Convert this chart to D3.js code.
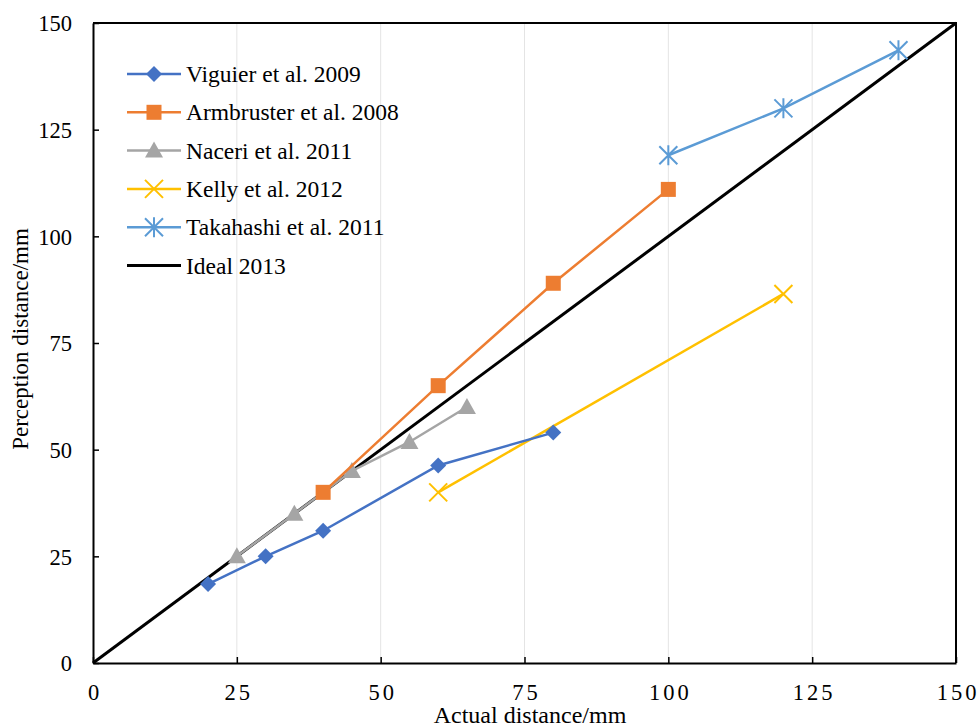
<!DOCTYPE html>
<html>
<head>
<meta charset="utf-8">
<script src="https://cdn.jsdelivr.net/npm/d3@7"></script>
<style>
  body { margin: 0; background: #fff; }
</style>
</head>
<body>
<svg width="978" height="726"></svg>
<script>
// series data (actual distance, perceived distance), mm
const viguier = [[20, 18.5], [30, 25], [40, 31], [60, 46.3], [80, 54]];
const armbruster = [[40, 40], [60, 65], [80, 89], [100, 111]];
const naceri = [[25, 25], [35, 35], [45, 45], [55, 51.8], [65, 60]];
const kelly = [[60, 40], [120, 86.5]];
const takahashi = [[100, 119], [120, 130], [140, 143.6]];
const ideal = [[0, 0], [150, 150]];

const seriesNames = ['Viguier et al. 2009', 'Armbruster et al. 2008', 'Naceri et al. 2011',
  'Kelly et al. 2012', 'Takahashi et al. 2011', 'Ideal 2013'];
const ticks = [0, 25, 50, 75, 100, 125, 150];

const serif = '"Liberation Serif", "DejaVu Serif", serif';

const svg = d3.select('svg')
    .attr('font-family', serif);
const margin = {left: 93, right: 22, top: 23, bottom: 63};
const width = 978 - margin.left - margin.right,
    height = 726 - margin.top - margin.bottom;

const x = d3.scaleLinear().domain([0, 150]).range([margin.left, margin.left + width]);
const y = d3.scaleLinear().domain([0, 150]).range([margin.top + height, margin.top]);

// markers drawn around (0,0)
function marker(g, kind, color) {
  if (kind === 'diamond') {
    const s = 8;
    g.append('path').attr('d', `M0,${-s}L${s},0L0,${s}L${-s},0Z`).attr('fill', color);
  } else if (kind === 'square') {
    g.append('rect').attr('x', -7.5).attr('y', -7.5).attr('width', 15).attr('height', 15).attr('fill', color);
  } else if (kind === 'triangle') {
    g.append('path').attr('d', 'M0,-9L9,7L-9,7Z').attr('fill', color);
  } else if (kind === 'x') {
    const s = 9;
    g.append('path').attr('d', `M${-s},${-s}L${s},${s}M${-s},${s}L${s},${-s}`)
      .attr('stroke', color).attr('stroke-width', 2).attr('fill', 'none');
  } else if (kind === 'star') {
    const s = 9;
    g.append('path').attr('d', `M${-s},${-s}L${s},${s}M${-s},${s}L${s},${-s}M0,${-s - 1}L0,${s + 1}`)
      .attr('stroke', color).attr('stroke-width', 2).attr('fill', 'none');
  }
}

const series = [
  {name: seriesNames[0], data: viguier, color: '#4472C4', kind: 'diamond'},
  {name: seriesNames[1], data: armbruster, color: '#ED7D31', kind: 'square'},
  {name: seriesNames[2], data: naceri, color: '#A5A5A5', kind: 'triangle'},
  {name: seriesNames[3], data: kelly, color: '#FFC000', kind: 'x'},
  {name: seriesNames[4], data: takahashi, color: '#5B9BD5', kind: 'star'},
  {name: seriesNames[5], data: ideal, color: '#000000', kind: null}
];

// vertical gridlines
svg.append('g')
  .selectAll('line')
  .data(ticks.slice(1, -1))
  .enter().append('line')
    .attr('x1', d => x(d)).attr('x2', d => x(d))
    .attr('y1', y(0)).attr('y2', y(150))
    .attr('stroke', '#e4e4e4').attr('stroke-width', 1);

// axes with inward ticks
const xAxis = svg.append('g')
  .attr('transform', `translate(0,${y(0)})`)
  .call(d3.axisBottom(x).tickValues(ticks).tickSizeInner(-6).tickSizeOuter(0).tickPadding(22));
const yAxis = svg.append('g')
  .attr('transform', `translate(${x(0)},0)`)
  .call(d3.axisLeft(y).tickValues(ticks).tickSizeInner(-6).tickSizeOuter(0).tickPadding(21));

[xAxis, yAxis].forEach(a => {
  a.attr('font-family', serif).attr('font-size', 22.5);
  a.select('.domain').attr('stroke', '#000').attr('stroke-width', 2);
  a.selectAll('.tick line').attr('stroke', '#000').attr('stroke-width', 1.5);
  a.selectAll('.tick text').attr('fill', '#000');
});
xAxis.selectAll('.tick text').style('letter-spacing', '3px').attr('dx', '1.5px').attr('dy', '0.65em');
yAxis.selectAll('.tick text').attr('dy', '0.35em');

// top and right border
svg.append('path')
  .attr('d', `M${x(0)},${y(150)}H${x(150)}V${y(0)}`)
  .attr('fill', 'none').attr('stroke', '#000').attr('stroke-width', 2);

const line = d3.line().x(d => x(d[0])).y(d => y(d[1]));

// ideal line first so markers sit above it
series.slice().reverse().forEach(s => {
  svg.append('path')
    .datum(s.data)
    .attr('d', line)
    .attr('fill', 'none')
    .attr('stroke', s.color)
    .attr('stroke-width', s.kind ? 2.5 : 3);
  if (s.kind) {
    svg.append('g').selectAll('g')
      .data(s.data)
      .enter().append('g')
        .attr('transform', d => `translate(${x(d[0])},${y(d[1])})`)
        .each(function () { marker(d3.select(this), s.kind, s.color); });
  }
});

// legend
const legend = svg.append('g').attr('transform', 'translate(127,74)');
series.forEach((s, i) => {
  const row = legend.append('g').attr('transform', `translate(0,${i * 38.3})`);
  row.append('line').attr('x1', 0).attr('x2', 54).attr('y1', 0).attr('y2', 0)
    .attr('stroke', s.color).attr('stroke-width', s.kind ? 2.5 : 3);
  if (s.kind) {
    const m = row.append('g').attr('transform', 'translate(27,0)');
    marker(m, s.kind, s.color);
  }
  row.append('text').attr('x', 59).attr('y', 8)
    .attr('font-size', 23.5).text(s.name);
});

// axis titles
svg.append('text')
  .attr('x', 530).attr('y', 723)
  .attr('text-anchor', 'middle')
  .attr('font-size', 24)
  .text('Actual distance/mm');

svg.append('text')
  .attr('transform', 'translate(28,339) rotate(-90)')
  .attr('text-anchor', 'middle')
  .attr('font-size', 23)
  .text('Perception distance/mm');
</script>
</body>
</html>
